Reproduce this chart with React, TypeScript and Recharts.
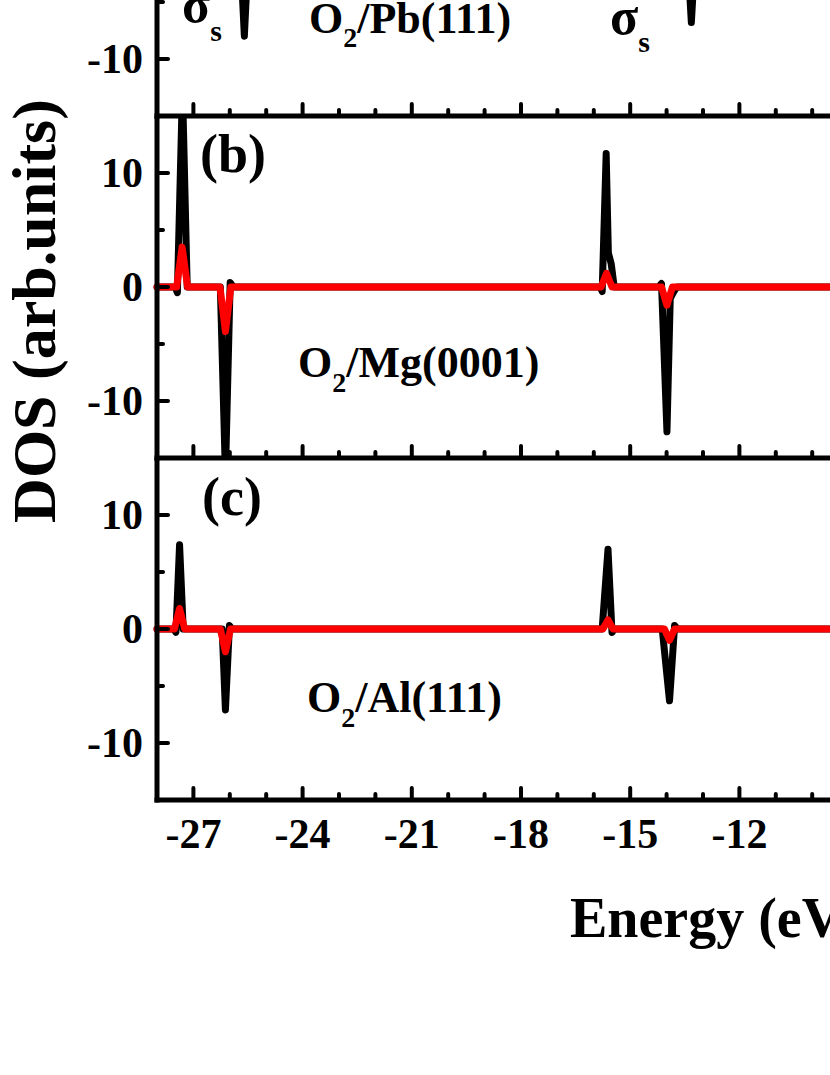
import { Line, LineChart, XAxis, YAxis } from "recharts";

const FONT = "'Liberation Serif', 'Times New Roman', serif";

// energy axis (eV)
const energyTicks = [-27, -26, -25, -24, -23, -22, -21, -20, -19, -18, -17, -16, -15, -14, -13, -12, -11, -10, -9, -8, -7, -6, -5];
const energyMajor = [-27, -24, -21, -18, -15, -12, -9, -6];
const energyLabels = [-27, -24, -21, -18, -15, -12];
const dosTicks = [-10, -5, 0, 5, 10];
const dosMajor = [-10, 0, 10];

// (a) O2/Pb(111) - only the lower part is in view
const aTotalE = [-28, -25.72, -25.6, -25.48, -13.44, -13.32, -13.2, -4];
const aTotalV = [0, 0, -8.0, 0, 0, -6.8, 0, 0];
const aOxyE = [-28, -25.75, -25.6, -25.45, -13.45, -13.32, -13.2, -4];
const aOxyV = [0, 0, -1.5, 0, 0, -1.0, 0, 0];

// (b) O2/Mg(0001)
const bTotalE = [-28, -27.5, -27.44, -27.3, -27.17, -26.26, -26.12, -25.99, -25.9, -15.82, -15.77, -15.66, -15.6, -15.52, -15.44, -14.22, -14.14, -13.99, -13.9, -13.8, -13.72, -4];
const bTotalV = [0, 0, -0.5, 17.5, 0, 0, -16.5, 0.4, 0, 0, -0.4, 11.7, 3.0, 2.0, 0, 0, 0.3, -12.7, -1.0, -0.4, 0, 0];
const bOxyE = [-28, -27.46, -27.31, -27.16, -26.27, -26.12, -25.97, -15.8, -15.65, -15.5, -14.14, -13.99, -13.84, -4];
const bOxyV = [0, 0, 3.5, 0, 0, -3.9, 0, 0, 1.2, 0, 0, -1.6, 0, 0];

// (c) O2/Al(111)
const cTotalE = [-28, -27.54, -27.48, -27.38, -27.28, -26.26, -26.21, -26.12, -26.01, -25.94, -15.77, -15.61, -15.5, -15.43, -14.12, -13.92, -13.78, -13.7, -4];
const cTotalV = [0, 0, -0.3, 7.4, 0, 0, 0, -7.1, 0.3, 0, 0, 7.0, -0.3, 0, 0, -6.3, 0.3, 0, 0];
const cOxyE = [-28, -27.52, -27.38, -27.24, -26.26, -26.12, -25.98, -15.75, -15.61, -15.47, -14.06, -13.92, -13.78, -4];
const cOxyV = [0, 0, 1.8, 0, 0, -2.0, 0, 0, 0.8, 0, 0, -1.0, 0, 0];

const E_MIN = -28;
const E_MAX = -4;
const PLOT_LEFT = 157;
const PLOT_H = 342;
const PLOT_W = (E_MAX - E_MIN) * 36.4;
const CHART_W = PLOT_LEFT + PLOT_W + 10;

const toRows = (e: number[], v: number[]) => e.map((x, i) => ({ e: x, v: v[i] }));

function XTick(props: any) {
  const { x, y, payload, showLabel } = props;
  const major = energyMajor.includes(payload.value);
  return (
    <g>
      <line x1={x} x2={x} y1={y} y2={y - (major ? 12 : 6)} stroke="#000" strokeWidth={4} strokeLinecap="round" />
      {showLabel && energyLabels.includes(payload.value) && (
        <text x={x} y={y + 48} textAnchor="middle" fontFamily={FONT} fontWeight="bold" fontSize={42} fill="#000">
          {payload.value}
        </text>
      )}
    </g>
  );
}

function YTick(props: any) {
  const { x, y, payload, labelled } = props;
  const major = dosMajor.includes(payload.value);
  return (
    <g>
      <line x1={x} x2={x + (major ? 11 : 6)} y1={y} y2={y} stroke="#000" strokeWidth={4} strokeLinecap="round" />
      {major && labelled.includes(payload.value) && (
        <text x={x - 14} y={y + 14} textAnchor="end" fontFamily={FONT} fontWeight="bold" fontSize={42} fill="#000">
          {payload.value}
        </text>
      )}
    </g>
  );
}

function Panel({ top, total, oxygen, labels, yLabels }: { top: number; total: any[]; oxygen: any[]; labels?: boolean; yLabels: number[] }) {
  const axisH = labels ? 70 : 10;
  return (
    <div style={{ position: "absolute", left: 0, top }}>
      <LineChart width={CHART_W} height={PLOT_H + axisH} margin={{ top: 0, right: 10, bottom: 0, left: 97 }}>
        <XAxis
          dataKey="e"
          type="number"
          domain={[E_MIN, E_MAX]}
          ticks={energyTicks}
          interval={0}
          height={axisH}
          tickSize={0}
          tickMargin={0}
          tickLine={false}
          axisLine={{ stroke: "#000", strokeWidth: 5, strokeLinecap: "square" }}
          tick={(p: any) => <XTick {...p} showLabel={labels} />}
        />
        <YAxis
          type="number"
          domain={[-15, 15]}
          allowDataOverflow
          ticks={dosTicks}
          interval={0}
          width={60}
          tickSize={0}
          tickMargin={0}
          tickLine={false}
          axisLine={{ stroke: "#000", strokeWidth: 5, strokeLinecap: "square" }}
          tick={(p: any) => <YTick {...p} labelled={yLabels} />}
        />
        <Line data={total} dataKey="v" type="linear" stroke="#000" strokeWidth={7} strokeLinejoin="round" strokeLinecap="round" dot={false} isAnimationActive={false} />
        <Line data={oxygen} dataKey="v" type="linear" stroke="#ff0000" strokeWidth={7} strokeLinejoin="round" strokeLinecap="round" dot={false} isAnimationActive={false} />
      </LineChart>
    </div>
  );
}

const textStyle = { fontFamily: FONT, fontWeight: "bold" as const, fill: "#000" };

export default function App() {
  return (
    <div style={{ position: "absolute", left: 0, top: 0, width: 830, height: 1075, overflow: "hidden", background: "#fff" }}>
      <Panel top={-226} total={toRows(aTotalE, aTotalV)} oxygen={toRows(aOxyE, aOxyV)} yLabels={[-10]} />
      <Panel top={116} total={toRows(bTotalE, bTotalV)} oxygen={toRows(bOxyE, bOxyV)} yLabels={dosMajor} />
      <Panel top={458} total={toRows(cTotalE, cTotalV)} oxygen={toRows(cOxyE, cOxyV)} yLabels={dosMajor} labels />
      <svg width={830} height={1075} style={{ position: "absolute", left: 0, top: 0, pointerEvents: "none" }}>
        <text transform="translate(55,311) rotate(-90)" textAnchor="middle" fontSize={62} {...textStyle}>
          DOS (arb.units)
        </text>
        <text x={570} y={937} fontSize={56} {...textStyle}>
          Energy (eV)
        </text>
        <text x={200} y={172} fontSize={54} {...textStyle}>(b)</text>
        <text x={202} y={515} fontSize={54} {...textStyle}>(c)</text>
        <text x={309} y={33} fontSize={44} {...textStyle}>
          O<tspan fontSize={28} dy={14}>2</tspan><tspan dy={-14}>/Pb(111)</tspan>
        </text>
        <text x={298} y={377} fontSize={44} {...textStyle}>
          O<tspan fontSize={28} dy={15}>2</tspan><tspan dy={-15}>/Mg(0001)</tspan>
        </text>
        <text x={307} y={712} fontSize={44} {...textStyle}>
          O<tspan fontSize={28} dy={15}>2</tspan><tspan dy={-15}>/Al(111)</tspan>
        </text>
        <text x={182} y={22} fontSize={52} {...textStyle}>
          σ<tspan fontSize={30} dy={19}>s</tspan>
        </text>
        <text x={610} y={34} fontSize={52} {...textStyle}>
          σ<tspan fontSize={30} dy={18}>s</tspan>
        </text>
      </svg>
    </div>
  );
}
